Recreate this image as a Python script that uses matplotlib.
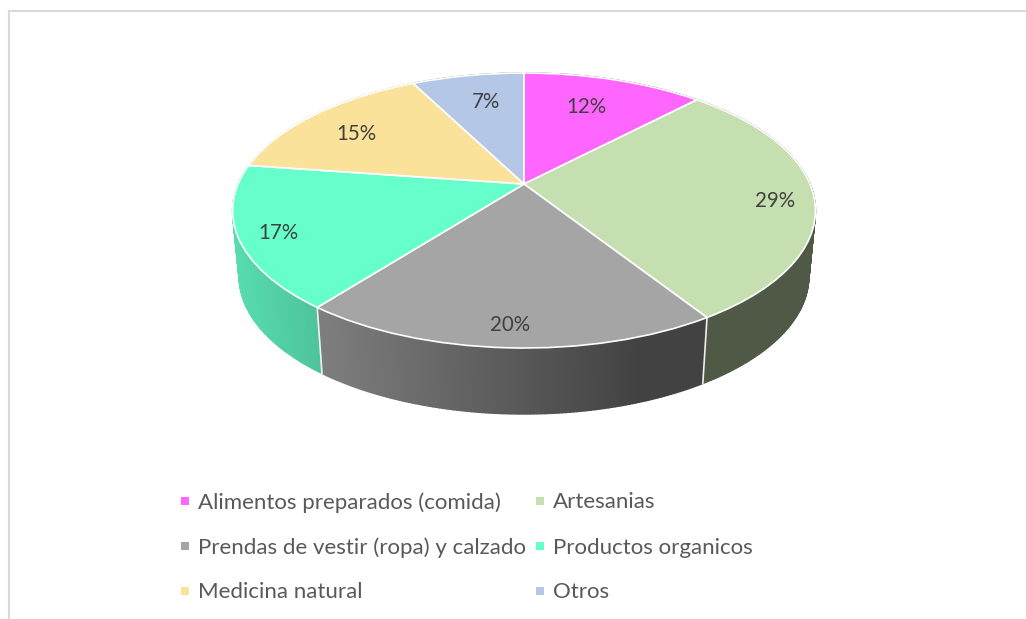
import numpy as np
import matplotlib
matplotlib.use('Agg')
import matplotlib.pyplot as plt
from matplotlib.transforms import Transform

categories = ['Alimentos preparados (comida)', 'Artesanias', 'Prendas de vestir (ropa) y calzado',
              'Productos organicos', 'Medicina natural', 'Otros']
# slice sizes, the printed labels are rounded
values = [12.1, 28.9, 19.5, 16.8, 15.2, 7.5]
pct_labels = ['12%', '29%', '20%', '17%', '15%', '7%']
colors = ['#ff66ff', '#c5dfb0', '#a5a5a5', '#66ffcc', '#fbe29b', '#b4c7e7']
label_x = [586, 775, 510, 278, 356, 486]
label_y = [107, 201, 325, 233, 134, 102]

# perspective of the pie, in pixels of the 1026x619 picture
CX, CY = 524, 184
A, B, K = 286, 132.4, 0.1927
WALL_H, WALL_SHRINK = 66, 0.977


def project(u, v):
    d = 1 + K * v
    return CX + A * u / d, CY - B * v / d


class PieProjection(Transform):
    input_dims = 2
    output_dims = 2
    is_affine = False
    has_inverse = False

    def transform_non_affine(self, pts):
        pts = np.asarray(pts)
        x, y = project(pts[:, 0], pts[:, 1])
        return np.column_stack([x, y])


def shade(x):
    # wall is lit from the left, flat dark past x=640
    return np.interp(x, [233, 640], [0.86, 0.40])


fig = plt.figure(figsize=(10.26, 6.19), dpi=100)
ax = fig.add_axes([0, 0, 1, 1])
wedges, _ = ax.pie(values, colors=colors, startangle=90, counterclock=False,
                   wedgeprops=dict(edgecolor='white', linewidth=1.2))
ax.set_aspect('auto')
ax.set_xlim(0, 1026)
ax.set_ylim(619, 0)
ax.axis('off')

proj = PieProjection()
for w in wedges:
    w.set_transform(proj + ax.transData)
    w.set_clip_on(False)
    w.set_zorder(5)

# side wall, cut into thin strips so it can carry the gradient
fracs = np.cumsum([0] + values) / sum(values)
for i in range(len(values)):
    t = np.linspace(fracs[i], fracs[i + 1], max(int(values[i] * 6), 2)) * 2 * np.pi
    x, y = project(np.sin(t), np.cos(t))
    xb = CX + (x - CX) * WALL_SHRINK
    yb = y + WALL_H
    base = np.array(matplotlib.colors.to_rgb(colors[i]))
    for j in range(len(t) - 1):
        c = base * shade((x[j] + x[j + 1]) / 2)
        ax.fill([x[j], x[j + 1], xb[j + 1], xb[j]], [y[j], y[j + 1], yb[j + 1], yb[j]],
                color=c, lw=1.0, zorder=2)
    # white seam at the slice boundary, only on the front
    if np.cos(t[0]) < 0:
        ax.plot([x[0], xb[0]], [y[0], yb[0]], color='#f0f0f0', lw=1.2, zorder=3)

for i in range(len(values)):
    ax.text(label_x[i], label_y[i], pct_labels[i], ha='center', va='center', fontsize=14.8,
            family='Lato', color='#404040', zorder=6)

# legend, two columns by three rows
leg_x = [185, 540]
leg_y = [501, 546, 591]
for i, name in enumerate(categories):
    col, row = i % 2, i // 2
    ax.scatter(leg_x[col], leg_y[row], marker='s', s=36, color=colors[i], linewidths=0, zorder=6)
    ax.text(leg_x[col] + 13, leg_y[row] + 1.5, name, ha='left', va='center', fontsize=16,
            family='Lato', color='#595959', zorder=6)

# chart frame, cut off on the right and at the bottom
ax.plot([8.5, 8.5, 1026], [619, 10.5, 10.5], color='#d9d9d9', lw=1.5, zorder=1, solid_joinstyle='miter')

fig.savefig('out.png', dpi=100)
